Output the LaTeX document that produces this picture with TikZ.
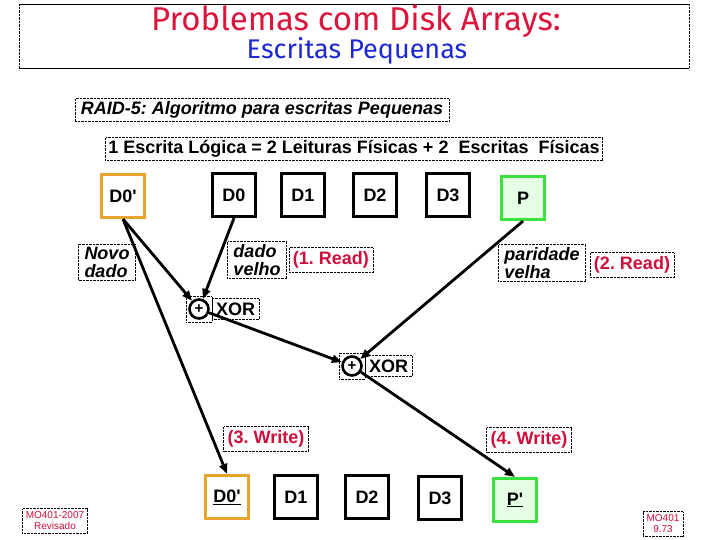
\documentclass[tikz,border=0pt]{standalone}
\usepackage{fontspec}
\setmainfont{Liberation Sans}
\newfontfamily\titlefont{Fira Sans}
\usetikzlibrary{arrows.meta,fit}
\frenchspacing

\definecolor{titlered}{RGB}{220,20,60}
\definecolor{titleblue}{RGB}{30,40,210}
\definecolor{readred}{RGB}{205,15,60}
\definecolor{diskorange}{RGB}{232,165,45}
\definecolor{diskgreen}{RGB}{60,225,60}

\newcommand{\apos}{\textquotesingle}

\tikzset{
  disk/.style={draw,line width=3.2pt,minimum size=43pt,inner sep=0pt,font=\bfseries\fontsize{18}{18}\selectfont},
  newdisk/.style={disk,draw=diskorange},
  paritydisk/.style={disk,draw=diskgreen,fill=green!10},
  note/.style={draw,densely dotted,thin,align=left,inner ysep=3pt,inner xsep=6pt,font=\bfseries\itshape\fontsize{18}{18}\selectfont},
  phase/.style={draw,densely dotted,thin,inner sep=4pt,text=readred,font=\bfseries\fontsize{18}{18}\selectfont},
  xorop/.style={circle,draw,line width=2.6pt,minimum size=19pt,inner sep=0pt,font=\bfseries\fontsize{15}{15}\selectfont},
  xorlabel/.style={draw,densely dotted,thin,anchor=west,inner sep=4pt,font=\bfseries\fontsize{18}{18}\selectfont},
  flow/.style={-{Triangle[length=10pt,width=8pt]},line width=2.8pt},
  sign/.style={draw,densely dotted,thin,align=center,text=readred,font=\fontsize{10}{11}\selectfont}
}

\begin{document}
\begin{tikzpicture}[x=1pt,y=-1pt]
    \useasboundingbox (0,0) rectangle (720,540);

    % title
    \draw (19,4)--(689,4) (19,68)--(689,68);
    \draw[densely dotted] (19,4)--(19,68) (689,4)--(689,68);
    \node[text=titlered,font=\titlefont\fontsize{33}{33}\selectfont] (ttl) at (356,21) {Problemas com Disk Arrays:};
    \node[text=titleblue,font=\titlefont\fontsize{27}{27}\selectfont] (subttl) at (357,51) {Escritas Pequenas};

    \node[note] (raid) at (262,110) {RAID-5: Algoritmo para escritas Pequenas};
    \node[draw,densely dotted,thin,inner sep=3pt,font=\bfseries\fontsize{18}{18}\selectfont] (rule) at (354,149)
        {1 Escrita Lógica = 2 Leituras Físicas + 2~~Escritas~~Físicas};

    % discos antes
    \node[newdisk] (d0n) at (123,196) {D0\apos};
    \node[disk] (d0) at (234,195) {D0};
    \node[disk] (d1) at (303,195) {D1};
    \node[disk] (d2) at (375,195) {D2};
    \node[disk] (d3) at (448,195) {D3};
    \node[paritydisk] (p) at (523,198) {P};

    \node[note] (novo) at (107,262) {Novo\\dado};
    \node[note] (velho) at (257,260) {dado\\velho};
    \node[phase] (read1) at (331,260) {(1. Read)};
    \node[note] (parvelha) at (542,263) {paridade\\velha};
    \node[phase] (read2) at (632,265) {(2. Read)};

    % xor
    \node[xorop] (x1) at (199,309) {+};
    \node[draw,densely dotted,thin,fit=(x1),inner sep=2pt] (x1box) {};
    \node[xorlabel] (x1lbl) at (x1box.east) {XOR};
    \node[xorop] (x2) at (352,366) {+};
    \node[draw,densely dotted,thin,fit=(x2),inner sep=2pt] (x2box) {};
    \node[xorlabel] (x2lbl) at (x2box.east) {XOR};

    \node[phase] (write3) at (266,439) {(3. Write)};
    \node[phase] (write4) at (529,440) {(4. Write)};

    % discos depois
    \node[newdisk] (w0) at (227,497) {\underline{D0\apos}};
    \node[disk] (w1) at (296,497) {D1};
    \node[disk] (w2) at (367,497) {D2};
    \node[disk] (w3) at (440,498) {D3};
    \node[paritydisk] (wp) at (515,500) {\underline{P\apos}};

    \draw[flow] (d0n.south) -- (x1);
    \draw[flow] (d0.south) -- (x1);
    \draw[flow] (d0n.south) -- (w0.north);
    \draw[flow] (p.south) -- (x2);
    \draw[flow] (x1) -- (x2);
    \draw[flow] (x2) -- (wp.north);

    \node[sign] (rev) at (55,521) {MO401-2007\\Revisado};
    \node[sign] (pg) at (663,524) {MO401\\9.73};
\end{tikzpicture}
\end{document}
